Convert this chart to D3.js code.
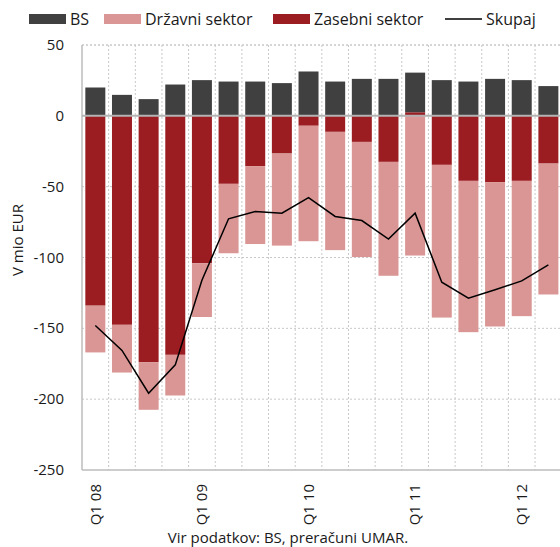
<!DOCTYPE html>
<html lang="sl">
<head>
<meta charset="utf-8">
<title>Finančni tokovi po sektorjih</title>
<script src="https://d3js.org/d3.v7.min.js"></script>
<style>
  body { margin: 0; background: #fff; }
  text { font-family: "Open Sans", "Noto Sans", sans-serif; fill: #1a1a1a; }
</style>
</head>
<body>
<div id="chart"></div>
<script>
// quarters Q1 08 .. Q2 12
var quarters = ["Q1 08","Q2 08","Q3 08","Q4 08","Q1 09","Q2 09","Q3 09","Q4 09",
                "Q1 10","Q2 10","Q3 10","Q4 10","Q1 11","Q2 11","Q3 11","Q4 11",
                "Q1 12","Q2 12"];
var bs       = [20, 14.8, 11.8, 22.1, 25.2, 24.2, 24.2, 23.1, 31.3, 24.2, 26.1, 26.1, 28, 25.2, 24.2, 26.1, 25.2, 21];
var drzavni  = [-33, -33.7, -33.5, -28.7, -38, -49, -55, -65, -81.5, -83.5, -81.3, -80.4, -98.6, -107.8, -106.8, -101.9, -95.5, -92.4];
var zasebni  = [-134, -147.5, -174, -168.7, -104, -48, -35.5, -26.6, -7, -11.3, -18.4, -32.5, 2.5, -34.6, -45.9, -46.8, -45.9, -33.7];
var skupaj   = [-148, -165.6, -195.8, -175.8, -116, -72.7, -67.5, -68.7, -57.7, -71, -73.9, -87, -68.7, -117.4, -128.7, -122.8, -116.5, -105.2];
var yTicks   = [50, 0, -50, -100, -150, -200, -250];

var width = 560, height = 547;
var mLeft = 82, mRight = 561.7, mTop = 45, mBottom = 470;

var svg = d3.select("#chart").append("svg")
  .attr("width", width).attr("height", height);

var x = d3.scaleBand().domain(quarters).range([mLeft, mRight])
  .paddingInner(0.25).paddingOuter(0.125);
var y = d3.scaleLinear().domain([-250, 50]).range([mBottom, mTop]);

var color = { bs: "#404040", drzavni: "#d99694", zasebni: "#9b1c21" };

// grid
var step = x.step();
var g = svg.append("g");
g.selectAll(".hg").data(yTicks.filter(function(d){ return d != 0 && d != -250; }))
  .enter().append("line")
  .attr("x1", mLeft).attr("x2", mRight)
  .attr("y1", function(d){ return y(d); }).attr("y2", function(d){ return y(d); })
  .attr("stroke", "#c8c8c8").attr("stroke-dasharray", "2,2");
g.selectAll(".vg").data(quarters.slice(1))
  .enter().append("line")
  .attr("x1", function(d){ return x(d) - step * x.paddingInner() / 2; })
  .attr("x2", function(d){ return x(d) - step * x.paddingInner() / 2; })
  .attr("y1", mTop).attr("y2", mBottom)
  .attr("stroke", "#c8c8c8").attr("stroke-dasharray", "2,2");

// stacked bars
var rows = quarters.map(function(q, i){
  return { q: q, zasebni: zasebni[i], drzavni: drzavni[i], bs: bs[i] };
});
var stack = d3.stack().keys(["zasebni", "drzavni", "bs"]).offset(d3.stackOffsetDiverging);
var series = stack(rows);

svg.append("g").selectAll("g").data(series).enter().append("g")
  .attr("fill", function(d){ return color[d.key]; })
  .selectAll("rect").data(function(d){ return d; }).enter().append("rect")
  .attr("x", function(d){ return x(d.data.q); })
  .attr("width", x.bandwidth())
  .attr("y", function(d){ return y(Math.max(d[0], d[1])); })
  .attr("height", function(d){ return Math.abs(y(d[0]) - y(d[1])); });

// axes frame
svg.append("line").attr("x1", mLeft).attr("x2", mLeft).attr("y1", mTop).attr("y2", mBottom)
  .attr("stroke", "#bdbdbd").attr("stroke-width", 1.5);
svg.append("line").attr("x1", mLeft).attr("x2", mRight).attr("y1", mBottom).attr("y2", mBottom)
  .attr("stroke", "#bdbdbd").attr("stroke-width", 1.5);
svg.append("line").attr("x1", mLeft).attr("x2", mRight).attr("y1", mTop).attr("y2", mTop)
  .attr("stroke", "#c8c8c8").attr("stroke-dasharray", "2,2");
svg.append("line").attr("x1", mLeft).attr("x2", mRight).attr("y1", y(0)).attr("y2", y(0))
  .attr("stroke", "#b3b3b3").attr("stroke-width", 2);

// total line
var line = d3.line()
  .x(function(d, i){ return x(quarters[i]) + x.bandwidth() / 2; })
  .y(function(d){ return y(d); });
svg.append("path").datum(skupaj).attr("d", line)
  .attr("fill", "none").attr("stroke", "#000").attr("stroke-width", 1.5);

// y ticks
svg.append("g").selectAll("text").data(yTicks).enter().append("text")
  .attr("x", 64).attr("y", function(d){ return y(d) + 5; })
  .attr("text-anchor", "end").style("font-size", "15px")
  .text(function(d){ return d; });

svg.append("text")
  .attr("transform", "translate(23,240) rotate(-90)")
  .attr("text-anchor", "middle").style("font-size", "15px")
  .text("V mio EUR");

// x labels (Q1 only)
svg.append("g").selectAll("text").data(quarters.filter(function(q){ return q.indexOf("Q1") == 0; }))
  .enter().append("text")
  .attr("transform", function(d){ return "translate(" + (x(d) + x.bandwidth() / 2) + ",484) rotate(-90)"; })
  .attr("text-anchor", "end").attr("dy", "0.35em").style("font-size", "15px")
  .text(function(d){ return d; });

svg.append("text").attr("x", 288).attr("y", 543).attr("text-anchor", "middle")
  .style("font-size", "15px").text("Vir podatkov: BS, preračuni UMAR.");

// legend
var legend = [
  { label: "BS", key: "bs", x: 29 },
  { label: "Državni sektor", key: "drzavni", x: 104 },
  { label: "Zasebni sektor", key: "zasebni", x: 273 },
  { label: "Skupaj", key: "line", x: 445 }
];
var lg = svg.append("g").selectAll("g").data(legend).enter().append("g")
  .attr("transform", function(d){ return "translate(" + d.x + ",0)"; });
lg.filter(function(d){ return d.key != "line"; }).append("rect")
  .attr("y", 14).attr("width", 37).attr("height", 10)
  .attr("fill", function(d){ return color[d.key]; });
lg.filter(function(d){ return d.key == "line"; }).append("line")
  .attr("x1", 0).attr("x2", 37).attr("y1", 19).attr("y2", 19)
  .attr("stroke", "#000").attr("stroke-width", 1.5);
lg.append("text").attr("x", 41).attr("y", 25).style("font-size", "16px")
  .text(function(d){ return d.label; });
</script>
</body>
</html>
